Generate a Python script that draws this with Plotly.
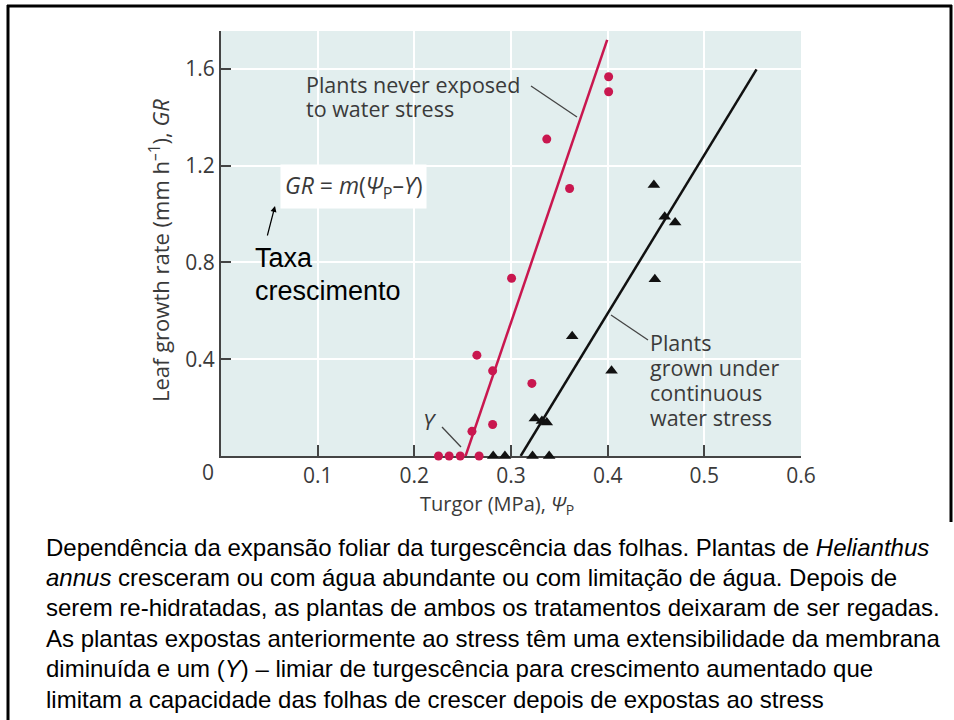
import plotly.graph_objects as go

# ---------------- data ----------------
never_x = [0.225, 0.236, 0.2475, 0.267, 0.2596, 0.281, 0.281, 0.2647, 0.3006, 0.3216, 0.401, 0.401, 0.337, 0.3606]
never_y = [0.0, 0.0, 0.0, 0.0, 0.102, 0.13, 0.352, 0.417, 0.735, 0.30, 1.568, 1.506, 1.31, 1.106]

stress_x = [0.2816, 0.2937, 0.3223, 0.3395, 0.3247, 0.332, 0.337, 0.3633, 0.404, 0.4488, 0.4478, 0.459, 0.4698]
stress_y = [0.0, 0.0, 0.0, 0.0, 0.155, 0.145, 0.138, 0.495, 0.352, 0.731, 1.12, 0.989, 0.965]

never_fit_x = [0.253, 0.3995]
never_fit_y = [0.0, 1.72]
stress_fit_x = [0.31, 0.554]
stress_fit_y = [0.0, 1.598]

x_ticks = [0.1, 0.2, 0.3, 0.4, 0.5, 0.6]
x_ticklabels = ["0.1", "0.2", "0.3", "0.4", "0.5", "0.6"]
y_ticks = [0.4, 0.8, 1.2, 1.6]
y_ticklabels = ["0.4", "0.8", "1.2", "1.6"]

x_title = "Turgor (MPa), <i>Ψ</i><sub>P</sub>"
y_title = "Leaf growth rate (mm h<sup>–1</sup>), <i>GR</i>"
never_label = ["Plants never exposed", "to water stress"]
stress_label = ["Plants", "grown under", "continuous", "water stress"]
note_label = ["Taxa", "crescimento"]
equation = "<i>GR</i> = <i>m</i>(<i>Ψ</i><sub>P</sub>–<i>Y</i>)"

caption_lines = [
    "Dependência da expansão foliar da turgescência das folhas. Plantas de <i>Helianthus</i>",
    "<i>annus</i> cresceram ou com água abundante ou com limitação de água. Depois de",
    "serem re-hidratadas, as plantas de ambos os tratamentos deixaram de ser regadas.",
    "As plantas expostas anteriormente ao stress têm uma extensibilidade da membrana",
    "diminuída e um (<i>Y</i>) – limiar de turgescência para crescimento aumentado que",
    "limitam a capacidade das folhas de crescer depois de expostas ao stress",
]

# ---------------- layout geometry ----------------
W, H = 954, 720
L, R, T, B = 221, 153, 31, 264
XMAX, YMAX = 0.6, 1.757
PW, PH = W - L - R, H - T - B


def xd(px):
    return (px - L) / PW * XMAX


def yd(py):
    return (H - B - py) / PH * YMAX


def xp(px):
    return (px - L) / PW


def yp(py):
    return (H - B - py) / PH


RED = "#c9174f"
TXT = "#3a3a3a"
CHART_FONT = "Open Sans"

fig = go.Figure()

fig.add_trace(go.Scatter(x=never_fit_x, y=never_fit_y, mode="lines",
                         line=dict(color=RED, width=2.5), cliponaxis=False, showlegend=False))
fig.add_trace(go.Scatter(x=stress_fit_x, y=stress_fit_y, mode="lines",
                         line=dict(color="#111111", width=2.5), cliponaxis=False, showlegend=False))
fig.add_trace(go.Scatter(x=never_x, y=never_y, mode="markers",
                         marker=dict(color=RED, size=9, symbol="circle"),
                         cliponaxis=False, showlegend=False))
fig.add_trace(go.Scatter(x=stress_x, y=stress_y, mode="markers",
                         marker=dict(color="#111111", size=11, symbol="triangle-up"),
                         cliponaxis=False, showlegend=False))

ann = []
# origin label
ann.append(dict(x=xp(208), y=yp(472), xref="paper", yref="paper", text="0", showarrow=False,
                xanchor="center", yanchor="middle",
                font=dict(family=CHART_FONT, size=21, color=TXT)))
# axis titles
ann.append(dict(x=xp(497), y=yp(504), xref="paper", yref="paper", text=x_title, showarrow=False,
                xanchor="center", yanchor="middle",
                font=dict(family=CHART_FONT, size=20, color=TXT)))
ann.append(dict(x=xp(160), y=yp(251), xref="paper", yref="paper", text=y_title, showarrow=False,
                xanchor="center", yanchor="middle",
                textangle=-90, font=dict(family=CHART_FONT, size=22, color=TXT)))
# labels inside plot
for i, t in enumerate(never_label):
    ann.append(dict(x=xd(304), y=yd(84 + 24 * i), text=t, showarrow=False,
                    xanchor="left", yanchor="middle", align="left",
                    font=dict(family=CHART_FONT, size=21.5, color=TXT)))
for i, t in enumerate(stress_label):
    ann.append(dict(x=xd(648), y=yd(342 + 25 * i), text=t, showarrow=False,
                    xanchor="left", yanchor="middle", align="left",
                    font=dict(family=CHART_FONT, size=21.5, color=TXT)))
ann.append(dict(x=xd(430), y=yd(421), text="<i>Y</i>", showarrow=False,
                font=dict(family=CHART_FONT, size=22, color=TXT)))
ann.append(dict(x=xd(353), y=yd(186), text=equation, showarrow=False,
                bgcolor="white", borderpad=4,
                font=dict(family=CHART_FONT, size=23, color=TXT)))
# arrow to the equation
ann.append(dict(x=xd(275), y=yd(206), text="", showarrow=True, arrowhead=2, arrowsize=1,
                arrowwidth=1.2, arrowcolor="black", ax=-8, ay=31, standoff=0))
for i, t in enumerate(note_label):
    ann.append(dict(x=xd(253), y=yd(258 + 33 * i), text=t, showarrow=False,
                    xanchor="left", yanchor="middle", align="left",
                    font=dict(family="Liberation Sans", size=27, color="black")))
# caption
for i, line in enumerate(caption_lines):
    ann.append(dict(x=xp(44), y=yp(547 + 30.4 * i), xref="paper", yref="paper", text=line,
                    showarrow=False, xanchor="left", yanchor="middle", align="left",
                    font=dict(family="Liberation Sans", size=24, color="black")))

shapes = []
LEAD = dict(color="#444444", width=1.3)
shapes.append(dict(type="line", x0=xd(531), y0=yd(86), x1=xd(577), y1=yd(117), line=LEAD))
shapes.append(dict(type="line", x0=xd(611), y0=yd(315), x1=xd(648), y1=yd(340), line=LEAD))
shapes.append(dict(type="line", x0=xd(442), y0=yd(427), x1=xd(461), y1=yd(447), line=LEAD))
# frame around the picture
FRAME = dict(color="black", width=3)
shapes.append(dict(type="line", xref="paper", yref="paper", x0=xp(7), y0=yp(6), x1=xp(952), y1=yp(6), line=FRAME))
shapes.append(dict(type="line", xref="paper", yref="paper", x0=xp(8), y0=yp(5), x1=xp(8), y1=yp(725), line=FRAME))
shapes.append(dict(type="line", xref="paper", yref="paper", x0=xp(951), y0=yp(5), x1=xp(951), y1=yp(522), line=FRAME))

fig.update_layout(
    width=W, height=H,
    margin=dict(l=L, r=R, t=T, b=B),
    paper_bgcolor="white",
    plot_bgcolor="#e2eeee",
    annotations=ann,
    shapes=shapes,
    showlegend=False,
)

fig.update_xaxes(
    range=[0, XMAX], tickvals=x_ticks, ticktext=x_ticklabels,
    ticks="inside", ticklen=11, tickwidth=1.5, tickcolor="#444444",
    showline=True, linecolor="#444444", linewidth=2,
    showgrid=True, gridcolor="white", gridwidth=1.5, zeroline=False,
    tickfont=dict(family=CHART_FONT, size=21, color=TXT),
    layer="below traces",
)
fig.update_yaxes(
    range=[0, YMAX], tickvals=y_ticks + [YMAX], ticktext=y_ticklabels + [""],
    ticks="inside", ticklen=10, tickwidth=1.5, tickcolor="#444444",
    showline=True, linecolor="#444444", linewidth=2,
    showgrid=True, gridcolor="white", gridwidth=1.5, zeroline=False,
    tickfont=dict(family=CHART_FONT, size=21, color=TXT),
    layer="below traces",
)

fig.write_html("out.html", config={"displayModeBar": False},
               post_script="document.body.style.margin='0';document.body.style.overflow='hidden';")
